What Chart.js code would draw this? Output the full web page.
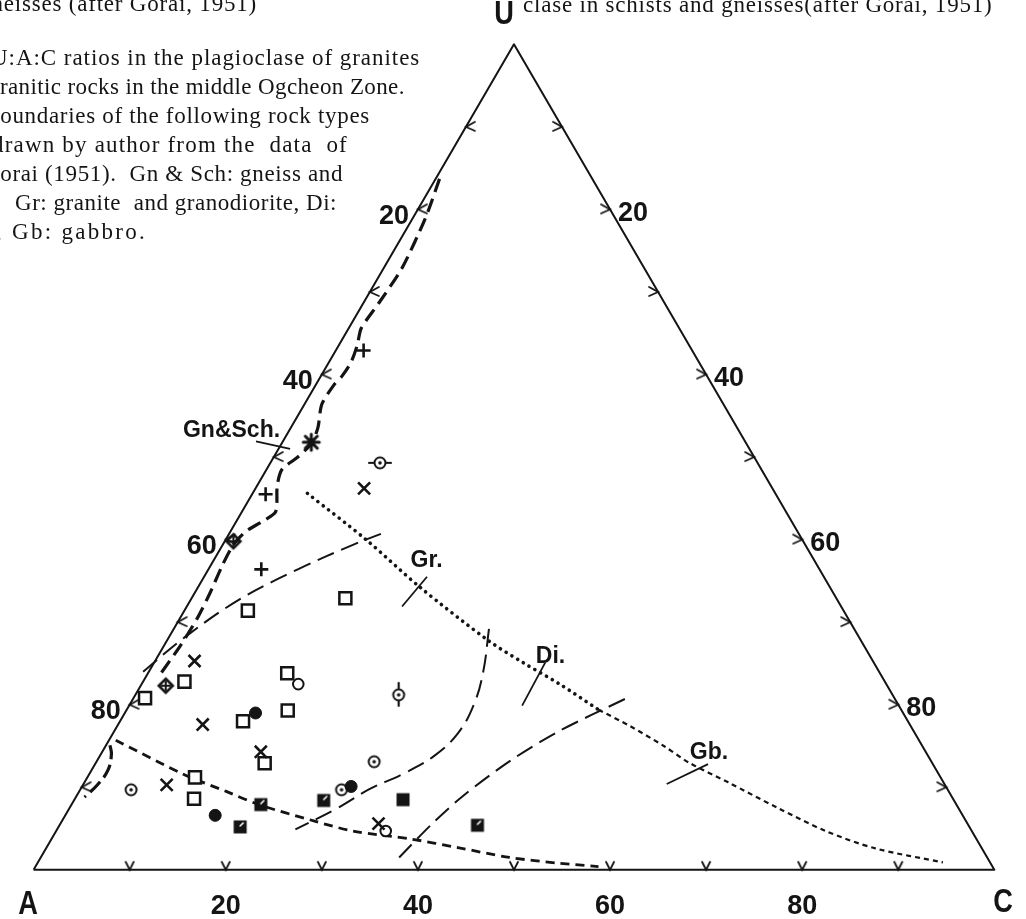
<!DOCTYPE html>
<html lang="en">
<head>
<meta charset="utf-8">
<title>U:A:C ratios in plagioclase</title>
<style>
  html, body { margin: 0; padding: 0; background: #fff; }
  #wrap { width: 1026px; height: 919px; }
</style>
</head>
<body>
<div id="wrap"><canvas id="tern" width="1026" height="919"></canvas></div>
<script src="https://cdn.jsdelivr.net/npm/chart.js"></script>
<script>
// every point is [U, C] in percent; A = 100 - U - C
const plusPts = [[62.9, 2.9], [45.5, 1.4], [36.4, 5.5]];
const starPts = [[51.8, 3.0]];
const crossPts = [[46.2, 11.3], [25.3, 4.1], [17.6, 8.8], [14.3, 16.5], [10.3, 8.7], [5.6, 33.1]];
const squarePts = [[32.9, 16.0], [31.4, 6.6], [22.8, 4.3], [20.8, 1.2], [18.0, 12.8],
                   [12.9, 17.6], [11.2, 11.2], [8.6, 12.4], [23.8, 14.5], [19.3, 16.8]];
const halfSquarePts = [[7.9, 19.7], [5.2, 18.9], [8.4, 26.0], [5.4, 43.5]];
const blackSquarePts = [[8.5, 34.2]];
const dotCirclePts = [[9.7, 5.3], [13.1, 28.9], [9.7, 27.2]];
const dotCircleHPts = [[49.3, 11.4]];
const dotCircleVPts = [[21.2, 27.4]];
const blackCirclePts = [[19.0, 13.6], [6.6, 15.6], [10.1, 28.0]];
const openCirclePts = [[22.5, 16.3], [4.7, 34.3]];
const diamondPts = [[39.8, 0.9], [22.3, 2.6]];

// field boundaries (after Gorai, 1951)
const gnSchLine = [[83.7, 0.4], [79.0, 1.3], [72.9, 1.9], [68.6, 1.6], [65.6, 1.3], [63.6, 1.9],
                   [61.5, 2.3], [59.8, 2.2], [58.8, 1.9], [56.4, 1.8], [53.6, 2.8], [51.7, 3.1],
                   [50.0, 2.5], [48.5, 1.6], [46.5, 2.1], [43.4, 3.5], [42.2, 2.7], [41.0, 1.6],
                   [39.4, 1.1], [36.9, 1.2], [33.5, 1.6], [30.4, 1.8], [27.2, 1.7], [23.3, 1.3]];
const gnSchEnd = [[15.1, 0.4], [14.0, 1.1], [12.1, 1.7], [10.3, 1.5], [8.8, 0.9]];
const grDotted = [[45.6, 5.7], [40.0, 14.6], [34.3, 23.0], [27.8, 33.4], [25.1, 38.4], [22.5, 43.5], [19.4, 49.1]];
const gbDotted = [[19.4, 49.1], [17.4, 53.4], [15.0, 58.1], [13.0, 61.7], [10.6, 67.0],
                  [7.5, 73.7], [4.7, 80.1], [2.6, 86.3], [0.9, 94.2]];
const grDashed = [[24.0, -0.6], [28.1, 1.6], [32.7, 5.0], [36.4, 9.3], [39.4, 13.6], [40.7, 15.8]];
const diDashed = [[29.2, 32.8], [24.0, 34.8], [20.1, 35.8], [16.6, 35.9], [13.8, 34.8],
                  [11.6, 32.6], [9.8, 30.1], [7.5, 27.9], [4.9, 24.8]];
const gbDashed = [[1.5, 37.3], [5.6, 38.7], [9.1, 40.3], [13.2, 43.0], [16.8, 46.3], [20.7, 51.2]];
const lowerDashed = [[15.7, 0.7], [11.5, 10.0], [9.5, 15.3], [7.9, 19.5], [5.9, 26.3], [4.7, 30.9],
                     [3.7, 37.6], [2.7, 42.8], [1.5, 48.8], [0.8, 54.3], [0.4, 58.6]];

const regionNames = ['Gn&Sch.', 'Gr.', 'Di.', 'Gb.'];
const regionLabelAt = [[53.2, -6.0], [37.4, 22.2], [25.8, 40.9], [14.2, 63.2]];
const regionLeaders = [[[51.9, -2.8], [51.0, 1.2]], [[31.9, 22.4], [35.5, 23.2]],
                       [[19.9, 40.9], [25.1, 40.7]], [[10.4, 60.7], [12.8, 63.8]]];

const edgeTicks = [10, 20, 30, 40, 50, 60, 70, 80, 90];
const edgeLabels = [20, 40, 60, 80];

const captionTop = 'gneisses (after Gorai, 1951)';
const captionRight = 'clase in schists and gneisses(after Gorai, 1951)';
const captionLeft = ['U:A:C ratios in the plagioclase of granites',
                     'granitic rocks in the middle Ogcheon Zone.',
                     'boundaries of the following rock types',
                     'drawn by author from the  data  of',
                     'Gorai (1951).  Gn & Sch: gneiss and',
                     'Gr: granite  and granodiorite, Di:',
                     'diorite, Gb: gabbro.'];
const captionEnds = [420, 405, 370, 348, 343, 337, 155];

const ink = '#141414';

function toXY(list) {
  return list.map(([u, c]) => ({ x: c + u / 2, y: u }));
}

function marker(size, paint) {
  const cv = document.createElement('canvas');
  cv.width = size; cv.height = size;
  const g = cv.getContext('2d');
  g.translate(size / 2, size / 2);
  g.strokeStyle = ink; g.fillStyle = ink;
  g.lineCap = 'round';
  paint(g);
  return cv;
}

function ring(g) {
  g.lineWidth = 2;
  g.beginPath(); g.arc(0, 0, 5.5, 0, Math.PI * 2); g.stroke();
  g.beginPath(); g.arc(0, 0, 1.8, 0, Math.PI * 2); g.fill();
}

const dotCircle = marker(20, ring);
const dotCircleH = marker(28, g => {
  ring(g);
  g.lineWidth = 2.2;
  g.beginPath(); g.moveTo(-11, 0); g.lineTo(-6, 0); g.moveTo(6, 0); g.lineTo(11, 0); g.stroke();
});
const dotCircleV = marker(28, g => {
  ring(g);
  g.lineWidth = 2.2;
  g.beginPath(); g.moveTo(0, -12); g.lineTo(0, -6); g.moveTo(0, 6); g.lineTo(0, 11); g.stroke();
});
const star = marker(22, g => {
  g.lineWidth = 3;
  g.beginPath();
  g.moveTo(-8, 0); g.lineTo(8, 0); g.moveTo(0, -8); g.lineTo(0, 8);
  g.moveTo(-6, -6); g.lineTo(6, 6); g.moveTo(-6, 6); g.lineTo(6, -6);
  g.stroke();
});
const diamond = marker(22, g => {
  g.lineWidth = 2.6;
  g.beginPath(); g.moveTo(0, -7); g.lineTo(7, 0); g.lineTo(0, 7); g.lineTo(-7, 0); g.closePath(); g.stroke();
  g.lineWidth = 2;
  g.beginPath(); g.moveTo(-4, 0); g.lineTo(4, 0); g.moveTo(0, -4); g.lineTo(0, 4); g.stroke();
});
const halfSquare = marker(18, g => {
  g.fillRect(-6.5, -6.5, 13, 13);
  g.strokeStyle = '#fff'; g.lineWidth = 1.6;
  g.beginPath(); g.moveTo(0, -1); g.lineTo(3, -4); g.stroke();
});
const blackSquare = marker(18, g => { g.fillRect(-6.5, -6.5, 13, 13); });
const tickLeft = marker(24, g => {
  g.lineWidth = 1.8;
  g.beginPath(); g.moveTo(9, -5); g.lineTo(0, 0); g.lineTo(9, 4); g.stroke();
});
const tickRight = marker(24, g => {
  g.lineWidth = 1.8;
  g.beginPath(); g.moveTo(-9, -5); g.lineTo(0, 0); g.lineTo(-9, 4); g.stroke();
});
const tickBottom = marker(24, g => {
  g.lineWidth = 1.8;
  g.beginPath(); g.moveTo(-4, -8); g.lineTo(0, 0); g.lineTo(4, -8); g.stroke();
});

function pts(label, data, style, radius, extra) {
  return Object.assign({
    label, data: toXY(data), showLine: false,
    pointStyle: style, pointRadius: radius, pointHoverRadius: radius,
    pointBorderColor: ink, pointBackgroundColor: 'rgba(0,0,0,0)', pointBorderWidth: 2.4
  }, extra || {});
}

function curve(label, data, width, dash, tension, cap) {
  return {
    label, data: toXY(data), showLine: true, fill: false,
    borderColor: ink, borderWidth: width, borderDash: dash, tension: tension,
    borderCapStyle: cap || 'butt', borderJoinStyle: 'round', pointRadius: 0
  };
}

const datasets = [
  pts('plus', plusPts, 'cross', 7, { pointBorderWidth: 2.6 }),
  pts('star', starPts, star, 6),
  pts('cross', crossPts, 'crossRot', 8.5, { pointBorderWidth: 2.6 }),
  pts('square', squarePts, 'rect', 8.5, { pointBackgroundColor: '#fff', pointBorderWidth: 2.5 }),
  pts('half square', halfSquarePts, halfSquare, 6),
  pts('black square', blackSquarePts, blackSquare, 6),
  pts('dot circle', dotCirclePts, dotCircle, 6),
  pts('dot circle h', dotCircleHPts, dotCircleH, 6),
  pts('dot circle v', dotCircleVPts, dotCircleV, 6),
  pts('black circle', blackCirclePts, 'circle', 6, { pointBackgroundColor: ink, pointBorderWidth: 1 }),
  pts('open circle', openCirclePts, 'circle', 5.3, { pointBackgroundColor: '#fff', pointBorderWidth: 2 }),
  pts('diamond', diamondPts, diamond, 6),
  pts('left ticks', edgeTicks.map(t => [100 - t, 0]), tickLeft, 6),
  pts('right ticks', edgeTicks.map(t => [100 - t, t]), tickRight, 6),
  pts('bottom ticks', edgeTicks.map(t => [0, t]), tickBottom, 6),
  curve('Gn&Sch', gnSchLine, 3.2, [14, 7], 0.25),
  curve('Gn&Sch end', gnSchEnd, 3.2, [14, 6], 0.4),
  curve('Gr dotted', grDotted, 3.6, [0.1, 6.6], 0.3, 'round'),
  curve('Gb dotted', gbDotted, 2.2, [5, 4], 0.3),
  curve('Gr dashed', grDashed, 2, [18, 8], 0.35),
  curve('Di dashed', diDashed, 2, [18, 8], 0.4),
  curve('Gb dashed', gbDashed, 2, [18, 8], 0.3),
  curve('lower dashed', lowerDashed, 2.8, [9, 6], 0.3)
];
regionLeaders.forEach((seg, i) => datasets.push(curve('leader ' + regionNames[i], seg, 1.8, [], 0)));
datasets.push(curve('frame', [[0, 0], [0, 100], [100, 0], [0, 0]], 2, [], 0));

const notes = {
  id: 'notes',
  afterDraw(chart) {
    const { ctx, scales: { x, y } } = chart;
    const at = (u, c) => [x.getPixelForValue(c + u / 2), y.getPixelForValue(u)];
    ctx.save();
    ctx.fillStyle = ink;

    // captions, cut by the page edge as in the scan
    ctx.font = '23px "Liberation Serif", serif';
    ctx.letterSpacing = '0.8px';
    ctx.textBaseline = 'alphabetic';
    ctx.textAlign = 'right';
    ctx.fillText(captionTop, 257, 11);
    ctx.textAlign = 'left';
    ctx.fillText(captionRight, 523, 12);
    const starts = [-9, -12, -12, -8, -17, 15];
    captionLeft.forEach((line, i) => {
      ctx.letterSpacing = '0px';
      const w0 = ctx.measureText(line).width;
      let sx, ls;
      if (i < 6) {
        sx = starts[i];
        ls = (captionEnds[i] - sx - w0) / line.length;
      } else {
        // last line: the word before the comma falls off the page
        const wd = ctx.measureText('diorite').width;
        ls = (captionEnds[i] - 4 + wd - w0) / (line.length - 7);
        sx = -4 - wd - 7 * ls;
      }
      ctx.letterSpacing = ls.toFixed(2) + 'px';
      ctx.fillText(line, sx, 65 + i * 29);
    });
    ctx.letterSpacing = '0px';

    // corner letters, tall and narrow
    ctx.font = 'bold 34px "Liberation Sans", sans-serif';
    ctx.textAlign = 'center';
    ctx.textBaseline = 'middle';
    [['U', 504, 15], ['A', 28, 905], ['C', 1003, 903]].forEach(([t, cx, cy]) => {
      ctx.save();
      ctx.translate(cx, cy);
      ctx.scale(0.8, 1);
      ctx.fillText(t, 0, 0);
      ctx.restore();
    });

    // edge scale numbers
    ctx.font = 'bold 27px "Liberation Sans", sans-serif';
    edgeLabels.forEach(t => {
      let [px, py] = at(100 - t, 0);
      ctx.fillText(String(t), px - 24, py + 7);
      [px, py] = at(100 - t, t);
      ctx.fillText(String(t), px + 23, py + 4);
      [px] = at(0, t);
      ctx.fillText(String(t), px, 907);
    });

    // rock-type names
    ctx.font = 'bold 23px "Liberation Sans", sans-serif';
    regionNames.forEach((name, i) => {
      const [px, py] = at(regionLabelAt[i][0], regionLabelAt[i][1]);
      ctx.fillText(name, px, py);
    });
    ctx.restore();
  }
};

new Chart(document.getElementById('tern'), {
  type: 'scatter',
  data: { datasets },
  options: {
    responsive: false,
    animation: false,
    events: [],
    layout: { padding: 0 },
    scales: {
      x: { type: 'linear', min: -2.342, max: 102.14, display: false },
      y: { type: 'linear', min: -4.61, max: 104.02, display: false }
    },
    plugins: { legend: { display: false }, tooltip: { enabled: false } }
  },
  plugins: [notes]
});
</script>
</body>
</html>
